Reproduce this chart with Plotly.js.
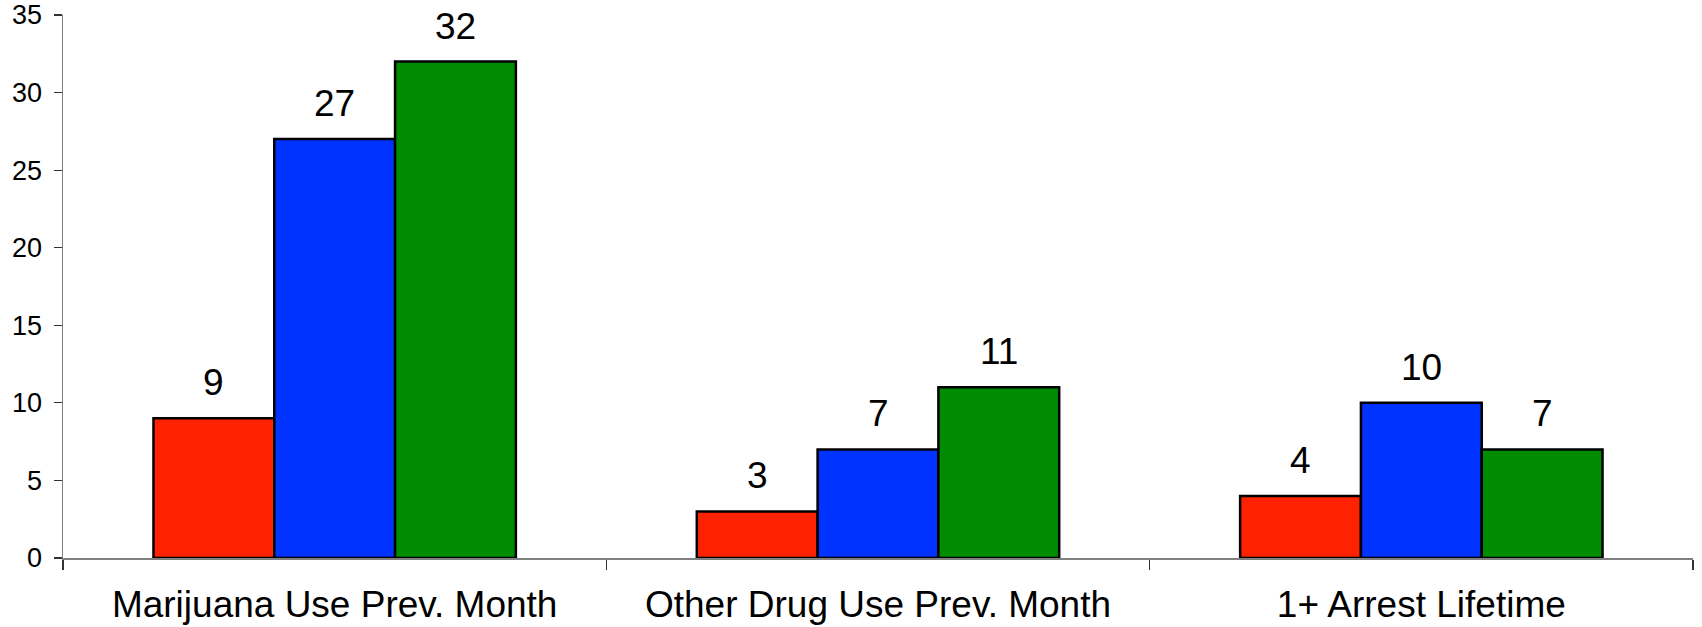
<!DOCTYPE html>
<html>
<head>
<meta charset="utf-8">
<script src="https://cdn.plot.ly/plotly-3.0.1.min.js"></script>
<style>html,body{margin:0;padding:0;background:#fff;}#chart{width:1702px;height:627px;}</style>
</head>
<body>
<div id="chart"></div>
<script>
const categories = ["Marijuana Use Prev. Month", "Other Drug Use Prev. Month", "1+ Arrest Lifetime"];
const seriesRed = [9, 3, 4];
const seriesBlue = [27, 7, 10];
const seriesGreen = [32, 11, 7];
const yTickValues = [0, 5, 10, 15, 20, 25, 30, 35];

const seriesList = [
  {name: "Series 1", values: seriesRed, color: "#FF2200"},
  {name: "Series 2", values: seriesBlue, color: "#0033FF"},
  {name: "Series 3", values: seriesGreen, color: "#008C00"}
];

const bargap = 0.333;
const barWidth = (1 - bargap) / seriesList.length;

const traces = seriesList.map(s => ({
  type: "bar",
  name: s.name,
  x: categories,
  y: s.values,
  marker: {color: s.color, line: {color: "#000000", width: 2.5}},
  hoverinfo: "y"
}));

const annotations = [];
seriesList.forEach((s, j) => {
  s.values.forEach((v, i) => {
    annotations.push({
      x: i + (j - (seriesList.length - 1) / 2) * barWidth,
      y: v,
      xref: "x", yref: "y",
      text: String(v),
      showarrow: false,
      yanchor: "bottom",
      yshift: 13,
      font: {family: "Liberation Sans, Arial, sans-serif", size: 37, color: "#000"}
    });
  });
});

const layout = {
  width: 1702, height: 627,
  margin: {l: 63, r: 9, t: 15, b: 69},
  paper_bgcolor: "#fff", plot_bgcolor: "#fff",
  barmode: "group",
  bargap: bargap,
  bargroupgap: 0,
  showlegend: false,
  font: {family: "Liberation Sans, Arial, sans-serif", color: "#000"},
  xaxis: {
    type: "category",
    showgrid: false,
    zeroline: false,
    showline: true, linecolor: "#808080", linewidth: 1.5,
    ticks: "outside", tickson: "boundaries", ticklen: 10, tickcolor: "#333", tickwidth: 1.2,
    tickfont: {size: 37, color: "#000"},
    ticklabelstandoff: 13
  },
  yaxis: {
    range: [0, 35],
    tickvals: yTickValues,
    ticktext: yTickValues.map(String),
    showgrid: false,
    zeroline: false,
    showline: true, linecolor: "#808080", linewidth: 1.5,
    ticks: "outside", ticklen: 8, tickcolor: "#333", tickwidth: 1.2,
    tickfont: {size: 27, color: "#000"},
    ticklabelstandoff: 6
  },
  annotations: annotations
};

Plotly.newPlot("chart", traces, layout, {displayModeBar: false, staticPlot: true});
</script>
</body>
</html>
